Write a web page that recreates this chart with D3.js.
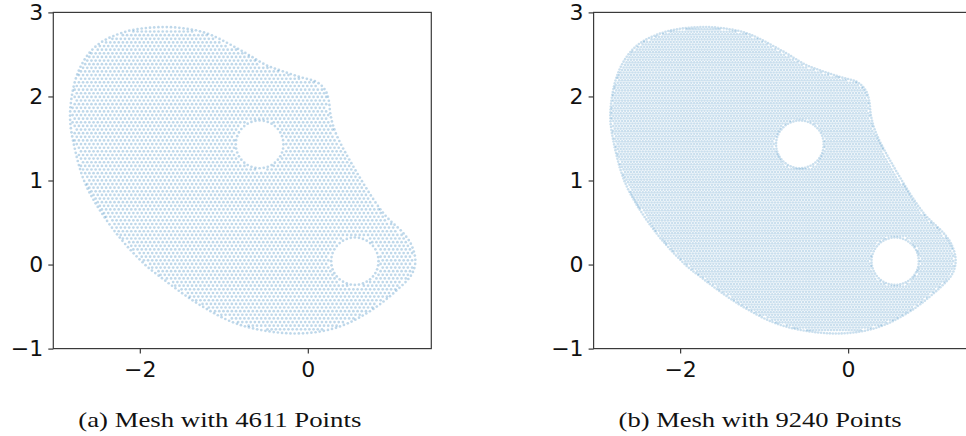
<!DOCTYPE html>
<html>
<head>
<meta charset="utf-8">
<script src="https://cdn.jsdelivr.net/npm/d3@7"></script>
<style>
  html, body { margin: 0; padding: 0; background: #fff; }
  svg { display: block; }
</style>
</head>
<body>
<svg id="chart" width="966" height="436"></svg>
<script>
// Outer boundary of the domain (x, y), traced clockwise from the top.
const boundary = [
  [-1.756, 2.825], [-1.48, 2.81], [-1.20, 2.75], [-0.80, 2.55], [-0.49, 2.37],
  [-0.33, 2.31], [-0.09, 2.23], [0.11, 2.17], [0.21, 2.07], [0.25, 1.95],
  [0.27, 1.78], [0.33, 1.57], [0.545, 1.16], [0.90, 0.61], [1.14, 0.37],
  [1.23, 0.24], [1.28, 0.05], [1.24, -0.11], [1.06, -0.305], [0.70, -0.58],
  [0.31, -0.76], [-0.17, -0.82], [-0.80, -0.72], [-1.28, -0.484], [-1.756, -0.147],
  [-1.95, 0.01], [-2.31, 0.41], [-2.63, 0.92], [-2.77, 1.36], [-2.83, 1.795],
  [-2.73, 2.30], [-2.52, 2.60], [-2.17, 2.77]
];
// Circular holes: [cx, cy, r]
const holes = [
  [-0.574, 1.43, 0.284],
  [0.560, 0.040, 0.282]
];
// One panel per mesh resolution
const panels = ["a", "b"];
const pointCounts = [4611, 9240];
const captions = ["(a) Mesh with 4611 Points", "(b) Mesh with 9240 Points"];
const xTicks = [-2, 0];
const yTicks = [-1, 0, 1, 2, 3];
const xDomain = [-3.03, 1.47];
const yDomain = [-1, 3];

const svg = d3.select("#chart");
const defs = svg.append("defs");
const ctx = document.createElement("canvas").getContext("2d");

const panelLeft = [53.3, 593.6];
const plotW = 378, plotH = 336.2, plotTop = 12.4;
const dotRadius = [1.35, 1.3];
const dotOpacity = [0.3, 0.25];

// Mesh nodes for spacing h: nodes on the outer curve and on each hole,
// plus a hexagonal lattice in the interior kept clear of those curves.
function meshNodes(h, x, y, shape, outlineEl, totalLen) {
  const k = x(1) - x(0);            // pixels per data unit
  const pts = [];
  const nb = Math.max(3, Math.round(totalLen / (h * k)));
  for (let i = 0; i < nb; i++) {
    const p = outlineEl.getPointAtLength(i * totalLen / nb);
    pts.push([x.invert(p.x), y.invert(p.y)]);
  }
  for (const [cx, cy, r] of holes) {
    const nh = Math.max(3, Math.round(2 * Math.PI * r / h));
    for (let i = 0; i < nh; i++) {
      const a = 2 * Math.PI * i / nh;
      pts.push([cx + r * Math.cos(a), cy + r * Math.sin(a)]);
    }
  }
  ctx.lineWidth = 0.75 * h * k;
  const dy = h * Math.sqrt(3) / 2;
  let row = 0;
  for (let yy = -0.9; yy <= 2.9; yy += dy, row++) {
    const off = (row % 2) * h / 2;
    for (let xx = -2.9 + off; xx <= 1.35; xx += h) {
      const px = x(xx), py = y(yy);
      if (!ctx.isPointInPath(shape, px, py)) continue;
      if (ctx.isPointInStroke(shape, px, py)) continue;
      let clear = true;
      for (const [cx, cy, r] of holes) {
        if (Math.hypot(xx - cx, yy - cy) < r + 0.38 * h) { clear = false; break; }
      }
      if (clear) pts.push([xx, yy]);
    }
  }
  return pts;
}

// Choose the spacing so the mesh holds the stated number of points
function meshWithCount(target, ...args) {
  let lo = 0.01, hi = 0.2, best = null;
  for (let i = 0; i < 36; i++) {
    const mid = (lo + hi) / 2;
    const pts = meshNodes(mid, ...args);
    if (pts.length >= target) { best = pts; lo = mid; } else { hi = mid; }
  }
  const extra = best.length - target;
  if (extra > 0) {
    const step = best.length / extra;
    const drop = new Set(d3.range(extra).map(j => Math.floor(j * step + step / 2)));
    best = best.filter((_, i) => !drop.has(i));
  }
  return best;
}

panels.forEach((key, pi) => {
  const x0 = panelLeft[pi];
  const x = d3.scaleLinear().domain(xDomain).range([x0, x0 + plotW]);
  const y = d3.scaleLinear().domain(yDomain).range([plotTop + plotH, plotTop]);

  const outline = d3.line()
    .x(d => x(d[0])).y(d => y(d[1]))
    .curve(d3.curveCatmullRomClosed.alpha(0.5))(boundary);
  const shape = new Path2D(outline);
  const outlineEl = defs.append("path").attr("id", "outline-" + key).attr("d", outline).node();
  const totalLen = outlineEl.getTotalLength();

  const nodes = meshWithCount(pointCounts[pi], x, y, shape, outlineEl, totalLen);

  const g = svg.append("g").attr("class", "panel-" + key);

  g.append("g").attr("class", "nodes")
    .selectAll("circle").data(nodes).join("circle")
    .attr("cx", d => x(d[0]))
    .attr("cy", d => y(d[1]))
    .attr("r", dotRadius[pi])
    .attr("fill", "#2a7fba")
    .attr("fill-opacity", dotOpacity[pi]);

  // Frame
  g.append("rect")
    .attr("x", x0).attr("y", plotTop)
    .attr("width", plotW).attr("height", plotH)
    .attr("fill", "none").attr("stroke", "#3a3a3a").attr("stroke-width", 1.2);

  const fontTick = "'DejaVu Sans', sans-serif";
  const fmt = d => d < 0 ? "\u2212" + Math.abs(d) : d;
  const xAxis = g.append("g")
    .attr("transform", `translate(0,${plotTop + plotH})`)
    .call(d3.axisBottom(x).tickValues(xTicks).tickSizeInner(5).tickSizeOuter(0).tickPadding(8).tickFormat(fmt));
  const yAxis = g.append("g")
    .attr("transform", `translate(${x0},0)`)
    .call(d3.axisLeft(y).tickValues(yTicks).tickSizeInner(5).tickSizeOuter(0).tickPadding(5).tickFormat(fmt));
  [xAxis, yAxis].forEach(a => {
    a.select(".domain").remove();
    a.selectAll(".tick line").attr("stroke", "#3a3a3a").attr("stroke-width", 1.2);
    a.selectAll(".tick text").attr("fill", "#111").style("font-family", fontTick).style("font-size", "22px");
  });

  g.append("text")
    .attr("x", x0 + 25).attr("y", 427)
    .attr("textLength", 283).attr("lengthAdjust", "spacingAndGlyphs")
    .style("font-family", "'Liberation Serif', serif")
    .style("font-size", "22px")
    .attr("fill", "#111")
    .text(captions[pi]);
});
</script>
</body>
</html>
